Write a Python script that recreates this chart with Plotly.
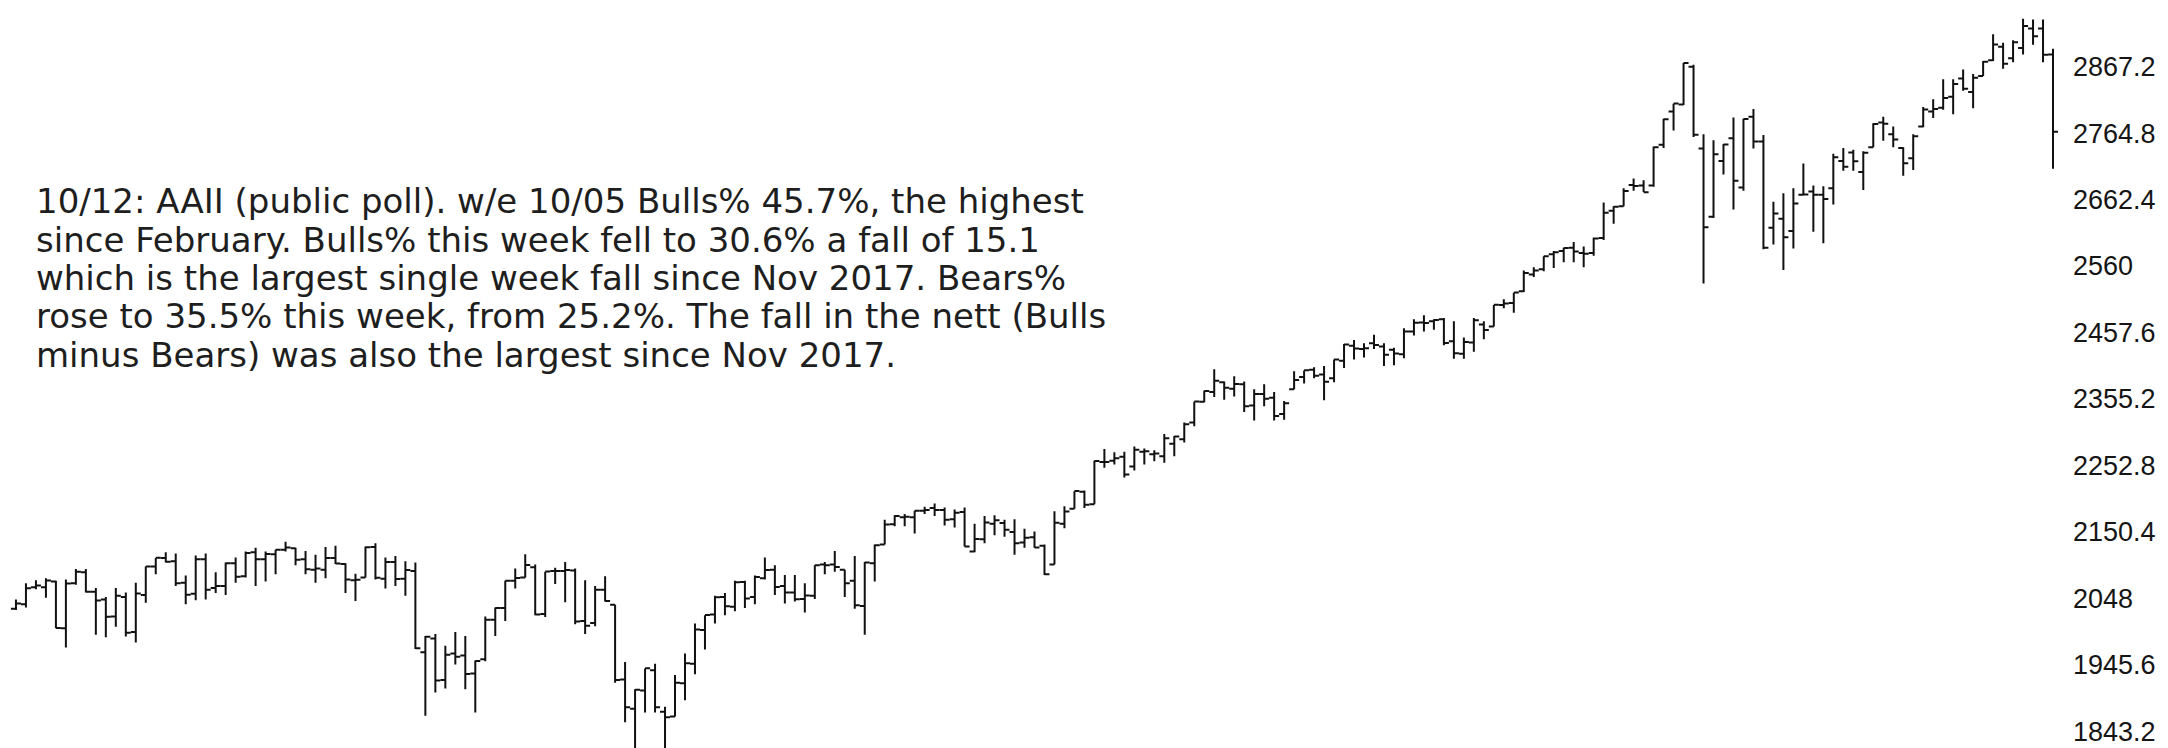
import pandas as pd
import plotly.graph_objects as go

# Weekly S&P 500 bars (week ending Fridays), Nov 2014 - Oct 2018
dates = pd.date_range("2014-11-14", periods=205, freq="7D")

opens = [2032,2039,2065,2065,2074,2002,2071,2088,2058,2046,
         2020,2050,1996,2053,2097,2110,2105,2072,2055,2108,
         2064,2067,2102,2082,2119,2108,2116,2123,2125,2108,
         2092,2092,2110,2101,2076,2080,2127,2078,2104,2078,
         2090,1965,1986,1922,1963,1960,1932,1954,2015,2033,
         2075,2080,2096,2024,2090,2090,2091,2013,2010,2061,
         2038,1923,1878,1906,1937,1873,1866,1917,1947,1999,
         2023,2050,2035,2073,2050,2079,2092,2067,2057,2047,
         2052,2100,2100,2092,2075,2036,2102,2131,2162,2173,
         2173,2183,2187,2184,2170,2181,2120,2139,2163,2164,
         2150,2134,2142,2129,2100,2163,2186,2212,2193,2258,
         2260,2266,2251,2274,2270,2267,2286,2293,2319,2351,
         2366,2381,2371,2378,2345,2363,2357,2332,2370,2389,
         2400,2393,2387,2414,2437,2432,2441,2436,2431,2424,
         2459,2473,2475,2478,2444,2425,2442,2470,2467,2500,
         2503,2521,2547,2555,2578,2583,2588,2580,2580,2603,
         2645,2652,2685,2684,2684,2747,2798,2809,2867,2741,
         2636,2722,2757,2681,2790,2752,2619,2633,2614,2670,
         2675,2670,2680,2722,2735,2705,2743,2781,2763,2742,
         2726,2775,2798,2804,2821,2849,2828,2853,2877,2898,
         2880,2896,2926,2926,2886]

highs = [2046,2071,2076,2079,2075,2077,2093,2093,2064,2050,
         2064,2057,2072,2097,2110,2119,2117,2083,2114,2117,
         2088,2103,2111,2120,2126,2120,2123,2135,2126,2121,
         2115,2127,2129,2102,2086,2128,2133,2111,2113,2105,
         2103,1990,1993,1975,1996,1990,1952,2020,2034,2075,
         2094,2116,2100,2089,2095,2104,2094,2076,2067,2082,
         2038,1950,1908,1940,1947,1881,1930,1963,2009,2022,
         2052,2056,2075,2075,2083,2111,2099,2084,2084,2071,
         2099,2104,2121,2092,2113,2104,2131,2169,2176,2178,
         2183,2189,2194,2188,2185,2188,2163,2175,2176,2169,
         2170,2155,2151,2131,2182,2190,2213,2214,2260,2278,
         2273,2274,2282,2279,2276,2301,2298,2319,2351,2368,
         2401,2382,2390,2382,2370,2378,2366,2352,2398,2399,
         2404,2406,2416,2440,2446,2441,2454,2441,2434,2464,
         2478,2484,2478,2480,2475,2450,2480,2475,2500,2509,
         2519,2553,2558,2575,2583,2588,2597,2590,2604,2658,
         2652,2680,2695,2692,2744,2787,2810,2873,2870,2763,
         2754,2748,2789,2787,2802,2762,2659,2672,2680,2718,
         2684,2683,2733,2742,2739,2737,2780,2790,2775,2743,
         2763,2805,2817,2848,2848,2863,2856,2876,2917,2904,
         2908,2941,2940,2940,2895]

lows = [2030,2034,2062,2049,2002,1972,2069,2057,1992,1988,
        2004,1989,1980,2041,2085,2103,2067,2039,2045,2046,
        2056,2053,2072,2080,2067,2074,2085,2120,2099,2085,
        2072,2079,2101,2056,2044,2080,2077,2063,2067,2052,
        1970,1867,1903,1909,1946,1908,1872,1951,1990,2013,
        2063,2080,2022,2019,2070,2042,2008,1993,2005,2043,
        1918,1857,1812,1872,1872,1810,1866,1891,1931,1969,
        2009,2022,2028,2033,2039,2077,2053,2040,2043,2026,
        2047,2085,2089,2050,2032,1992,2074,2131,2159,2159,
        2148,2178,2175,2160,2157,2128,2119,2133,2145,2143,
        2115,2126,2126,2084,2100,2156,2186,2187,2193,2249,
        2254,2234,2245,2254,2259,2257,2267,2288,2313,2350,
        2358,2354,2359,2335,2322,2344,2322,2323,2370,2379,
        2387,2353,2381,2403,2416,2419,2432,2406,2407,2418,
        2453,2459,2462,2438,2417,2417,2428,2447,2467,2495,
        2488,2520,2543,2552,2557,2566,2566,2558,2576,2600,
        2625,2652,2676,2674,2682,2742,2769,2808,2759,2533,
        2634,2701,2647,2676,2741,2586,2593,2554,2587,2670,
        2613,2595,2655,2707,2707,2677,2743,2753,2743,2699,
        2708,2774,2788,2801,2794,2830,2803,2853,2876,2864,
        2874,2886,2901,2874,2710]

closes = [2039.8,2063.5,2067.6,2075.4,2002.3,2070.7,2088.8,2058.2,2044.8,2019.4,
          2051.8,1995.0,2055.5,2097.0,2110.3,2104.5,2071.3,2053.4,2108.1,2061.0,
          2067.0,2102.1,2081.2,2117.7,2108.3,2116.1,2122.7,2126.1,2107.4,2092.8,
          2094.1,2110.0,2101.5,2076.8,2076.6,2126.6,2079.7,2103.8,2077.6,2091.5,
          1970.9,1988.9,1921.2,1961.1,1958.0,1931.3,1951.4,2014.9,2033.1,2075.2,
          2079.4,2099.2,2023.0,2089.2,2090.1,2091.7,2012.4,2005.6,2061.0,2043.9,
          1922.0,1880.3,1906.9,1940.2,1880.0,1864.8,1917.8,1948.1,2000.0,2022.2,
          2049.6,2035.9,2072.8,2047.6,2080.7,2091.6,2065.3,2057.1,2046.6,2052.3,
          2099.1,2099.1,2096.1,2071.2,2037.4,2103.0,2129.9,2161.7,2175.0,2173.6,
          2182.9,2184.1,2183.9,2169.0,2180.0,2127.8,2139.2,2164.7,2168.3,2153.7,
          2133.0,2141.2,2126.4,2085.2,2164.5,2181.9,2213.4,2192.0,2259.5,2258.1,
          2263.8,2238.8,2277.0,2274.6,2271.3,2294.7,2297.4,2316.1,2351.2,2367.3,
          2383.1,2372.6,2378.3,2344.0,2362.7,2355.5,2329.0,2348.7,2384.2,2399.3,
          2390.9,2381.7,2415.8,2439.1,2433.1,2433.2,2438.3,2423.4,2425.2,2459.3,
          2472.5,2472.1,2476.8,2441.3,2425.6,2443.1,2476.6,2461.4,2500.2,2502.2,
          2519.4,2549.3,2553.2,2575.2,2581.1,2587.8,2582.3,2578.9,2602.4,2642.2,
          2651.5,2675.8,2683.3,2673.6,2743.2,2786.2,2810.3,2872.9,2762.1,2619.6,
          2732.2,2747.3,2691.3,2786.6,2752.0,2588.3,2640.9,2604.5,2656.3,2670.1,
          2669.9,2663.4,2727.7,2713.0,2721.3,2734.6,2779.0,2779.4,2754.9,2718.4,
          2759.8,2801.3,2801.8,2818.8,2840.4,2833.3,2850.1,2874.7,2901.5,2871.7,
          2905.0,2929.7,2914.0,2885.6,2767.1]

tick_vals = [1843.2, 1945.6, 2048, 2150.4, 2252.8, 2355.2, 2457.6, 2560, 2662.4, 2764.8, 2867.2]
tick_text = ["1843.2", "1945.6", "2048", "2150.4", "2252.8", "2355.2", "2457.6", "2560", "2662.4", "2764.8", "2867.2"]

note_lines = [
    "10/12: AAII (public poll). w/e 10/05 Bulls% 45.7%, the highest",
    "since February. Bulls% this week fell to 30.6% a fall of 15.1",
    "which is the largest single week fall since Nov 2017. Bears%",
    "rose to 35.5% this week, from 25.2%. The fall in the nett (Bulls",
    "minus Bears) was also the largest since Nov 2017.",
]

W, H = 2168, 748
R_MARGIN = 113
PLOT_W = W - R_MARGIN

bar_style = dict(line=dict(color="#111111", width=2))
fig = go.Figure(go.Ohlc(
    x=dates, open=opens, high=highs, low=lows, close=closes,
    increasing=bar_style, decreasing=bar_style,
    tickwidth=0.5, hoverinfo="skip", showlegend=False,
))

x_start = dates[0] - pd.Timedelta(hours=134)
x_end = dates[-1] + pd.Timedelta(days=7)

annotations = []
first_y, line_gap, left_x = 193, 38.5, 26
for i, line in enumerate(note_lines):
    annotations.append(dict(
        text=line, xref="paper", yref="paper",
        x=left_x / PLOT_W, y=1 - (first_y + i * line_gap) / H,
        xanchor="left", yanchor="middle", showarrow=False,
        font=dict(family="DejaVu Sans", size=34, color="#1e1e1e"),
    ))

fig.update_layout(
    width=W, height=H,
    margin=dict(l=0, r=R_MARGIN, t=0, b=0),
    paper_bgcolor="white", plot_bgcolor="white",
    showlegend=False,
    annotations=annotations,
    xaxis=dict(
        range=[x_start, x_end], visible=False,
        rangeslider=dict(visible=False), showgrid=False, zeroline=False,
    ),
    yaxis=dict(
        side="right", range=[1805, 2957.6],
        tickmode="array", tickvals=tick_vals, ticktext=tick_text,
        showgrid=False, zeroline=False, showline=False, ticks="",
        ticklabelstandoff=9,
        tickfont=dict(family="Liberation Sans", size=27, color="#151515"),
    ),
)

fig.write_html("out.html")
